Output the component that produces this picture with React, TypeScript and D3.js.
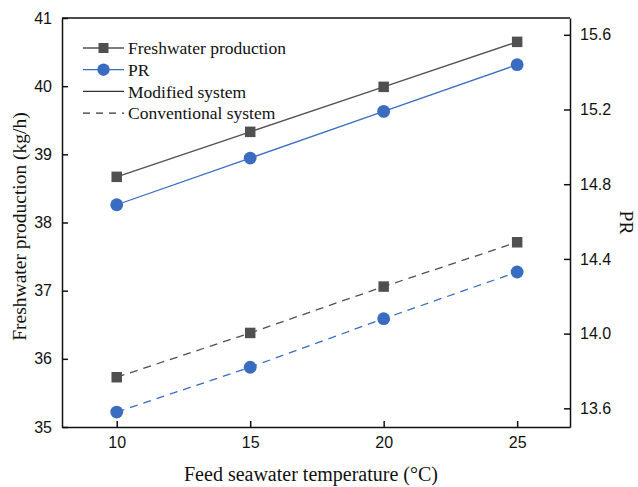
import React, { useEffect, useRef } from 'react';
import * as d3 from 'd3';

const temps = [10, 15, 20, 25];
const fwModified = [38.67, 39.33, 39.99, 40.65];
const fwConventional = [35.73, 36.38, 37.06, 37.71];
const prModified = [14.69, 14.94, 15.19, 15.44];
const prConventional = [13.58, 13.82, 14.08, 14.33];
const leftTicks = [35, 36, 37, 38, 39, 40, 41];
const rightTicks = [13.6, 14.0, 14.4, 14.8, 15.2, 15.6];

const GRAY = '#505050';
const BLUE = '#3a6cc2';

const App = () => {
  const ref = useRef<SVGSVGElement>(null);

  useEffect(() => {
    const width = 638;
    const height = 487;
    const m = { left: 62, right: 68, top: 18, bottom: 60 };
    const iw = width - m.left - m.right;
    const ih = height - m.top - m.bottom;

    const svg = d3.select(ref.current);
    svg.selectAll('*').remove();

    const x = d3.scaleLinear().domain([7.95, 26.98]).range([0, iw]);
    const yL = d3.scaleLinear().domain([35, 41]).range([ih, 0]);
    const yR = d3.scaleLinear().domain([13.5, 15.69]).range([ih, 0]);

    const g = svg.append('g').attr('transform', `translate(${m.left},${m.top})`);

    // axes, ticks pointing inward
    const tickFont = 'Liberation Sans, Arial, sans-serif';
    const axL = g.append('g').call(d3.axisLeft(yL).tickValues(leftTicks).tickSizeInner(-6).tickSizeOuter(0).tickPadding(10).tickFormat(d3.format('d')));
    const axR = g.append('g').attr('transform', `translate(${iw},0)`)
      .call(d3.axisRight(yR).tickValues(rightTicks).tickSizeInner(-6).tickSizeOuter(0).tickPadding(10).tickFormat(d3.format('.1f')));
    const axB = g.append('g').attr('transform', `translate(0,${ih})`)
      .call(d3.axisBottom(x).tickValues(temps).tickSizeInner(-6).tickSizeOuter(0).tickPadding(10).tickFormat(d3.format('d')));
    [axL, axR, axB].forEach((a) => {
      a.selectAll('text').style('font-family', tickFont).style('font-size', '16px').attr('fill', '#111');
      a.selectAll('line').attr('stroke', '#111').attr('stroke-width', 1.5);
      a.select('.domain').attr('stroke', '#111').attr('stroke-width', 1.5);
    });
    g.append('line').attr('x1', 0).attr('x2', iw).attr('y1', 0).attr('y2', 0)
      .attr('stroke', '#111').attr('stroke-width', 1.5);

    const drawSeries = (vals: number[], y: d3.ScaleLinear<number, number>, color: string, dashed: boolean, shape: string) => {
      const line = d3.line<number>().x((_, i) => x(temps[i])).y((d) => y(d));
      g.append('path').attr('d', line(vals)).attr('fill', 'none').attr('stroke', color)
        .attr('stroke-width', 1.3).attr('stroke-dasharray', dashed ? '8,6' : null);
      const sym = d3.symbol().type(shape === 'square' ? d3.symbolSquare : d3.symbolCircle)
        .size(shape === 'square' ? 110 : 130);
      g.selectAll(null).data(vals).enter().append('path')
        .attr('d', sym)
        .attr('transform', (d, i) => `translate(${x(temps[i])},${y(d)})`)
        .attr('fill', color);
    };

    drawSeries(fwModified, yL, GRAY, false, 'square');
    drawSeries(prModified, yR, BLUE, false, 'circle');
    drawSeries(fwConventional, yL, GRAY, true, 'square');
    drawSeries(prConventional, yR, BLUE, true, 'circle');

    // legend
    const legend = [
      { label: 'Freshwater production', color: GRAY, shape: 'square', dash: null },
      { label: 'PR', color: BLUE, shape: 'circle', dash: null },
      { label: 'Modified system', color: '#333', shape: null, dash: null },
      { label: 'Conventional system', color: '#333', shape: null, dash: '7,6' },
    ];
    const lg = svg.append('g').attr('transform', `translate(83,48)`);
    legend.forEach((d, i) => {
      const row = lg.append('g').attr('transform', `translate(0,${i * 21.7})`);
      row.append('line').attr('x1', 0).attr('x2', 41).attr('stroke', d.color)
        .attr('stroke-width', 1.3).attr('stroke-dasharray', d.dash);
      if (d.shape) {
        row.append('path')
          .attr('d', d3.symbol().type(d.shape === 'square' ? d3.symbolSquare : d3.symbolCircle).size(d.shape === 'square' ? 100 : 120)())
          .attr('transform', 'translate(20.5,0)').attr('fill', d.color);
      }
      row.append('text').attr('x', 45).attr('dy', '0.35em').text(d.label)
        .style('font-family', 'Liberation Serif, Times New Roman, serif').style('font-size', '17.5px').attr('fill', '#111');
    });

    // axis titles
    const titleFont = 'Liberation Serif, Times New Roman, serif';
    svg.append('text').attr('transform', `translate(19,${m.top + ih / 2 + 4}) rotate(-90)`)
      .attr('text-anchor', 'middle').attr('dy', '0.35em').text('Freshwater production (kg/h)')
      .style('font-family', titleFont).style('font-size', '19.5px').attr('fill', '#111');
    svg.append('text').attr('transform', `translate(627,${m.top + ih / 2}) rotate(90)`)
      .attr('text-anchor', 'middle').attr('dy', '0.35em').text('PR')
      .style('font-family', titleFont).style('font-size', '19.5px').attr('fill', '#111');
    svg.append('text').attr('x', 311).attr('y', 474).attr('text-anchor', 'middle')
      .attr('dy', '0.35em').text('Feed seawater temperature (°C)')
      .style('font-family', titleFont).style('font-size', '20px').attr('fill', '#111');
  }, []);

  return (
    <svg ref={ref} width={638} height={487}
      style={{ position: 'absolute', left: 0, top: 0, background: '#fff' }} />
  );
};

export default App;
